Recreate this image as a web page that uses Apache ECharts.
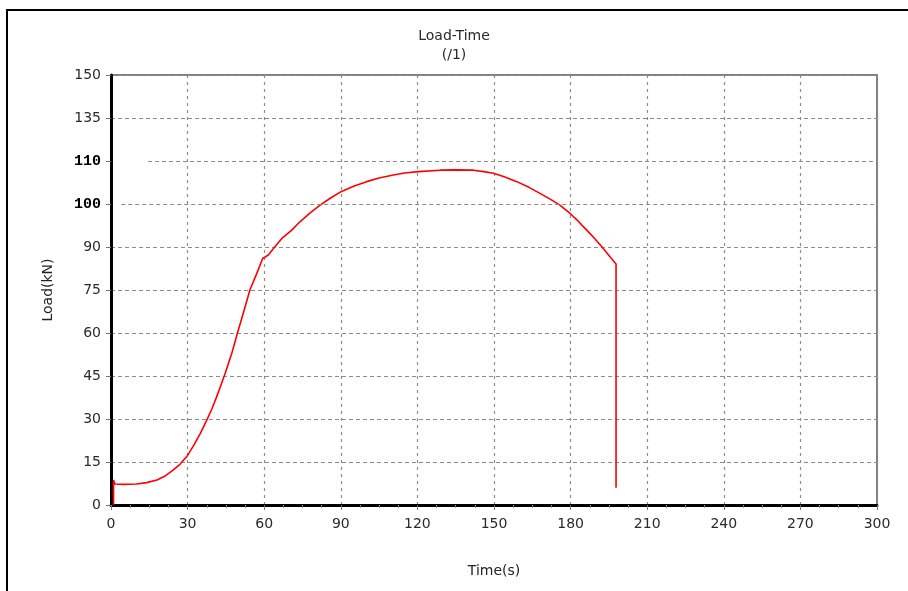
<!DOCTYPE html>
<html>
<head>
<meta charset="utf-8">
<title>Load-Time</title>
<script src="https://cdn.jsdelivr.net/npm/echarts@6/dist/echarts.min.js"></script>
<style>
  html, body { margin: 0; padding: 0; background: #fff; }
  #chart { width: 908px; height: 591px; }
</style>
</head>
<body>
<div id="chart"></div>
<script>
// time (s) of each sample
const timeValues = [
  1, 1, 1.5, 5, 10, 14, 18, 21, 24.3, 27, 30, 32.5, 35, 37.5, 39.5, 41.4, 43, 44.7,
  47.3, 49.5, 51.8, 54.4, 57.1, 59.4, 61.6, 64.2, 66.9, 70.8, 74, 78, 81.9, 86, 90.1,
  95, 100.1, 105, 110.6, 115, 120.4, 128.9, 135, 141.9, 146, 149.8, 154, 158.9, 163.5,
  168, 172, 175.8, 179.8, 183, 186.3, 189.6, 192.8, 195.5, 197.8, 197.8
]
// load (kN) of each sample
const loadValues = [
  0, 8.7, 7.3, 7.2, 7.3, 7.8, 8.7, 10, 12.2, 14.2, 17.3, 21, 25, 29.6, 33.5, 37.8, 41.7, 45.9,
  52.9, 59.9, 66.9, 75, 80.8, 86, 87.2, 90.1, 93, 95.9, 98.8, 101.9, 104.6, 107.1, 109.3,
  111.2, 112.8, 114.1, 115.1, 115.8, 116.3, 116.8, 116.9, 116.8, 116.3, 115.7, 114.5, 112.8, 110.9,
  108.7, 106.7, 104.6, 101.7, 99, 95.9, 92.8, 89.5, 86.5, 84.1, 6
]
// tick labels as printed on the y axis (one per 15 units)
const yTickLabels = ['0', '15', '30', '45', '60', '75', '90', '100', '110', '135', '150']
const editedTicks = ['100', '110']
// the two grid lines whose dashes start away from the axis: [y, x start]
const partialGridLines = [[105, 4], [120, 14.5]]

const chart = echarts.init(document.getElementById('chart'))

const gridGray = '#8c8c8c'
const splitColors = yTickLabels.map(l => editedTicks.includes(l) ? 'transparent' : gridGray)

chart.setOption({
  animation: false,
  textStyle: { fontFamily: 'DejaVu Sans' },
  title: {
    text: 'Load-Time',
    subtext: '(/1)',
    left: 'center',
    top: 24,
    itemGap: 5,
    textStyle: { fontSize: 14, fontWeight: 'normal', color: '#2a2a2a' },
    subtextStyle: { fontSize: 14, color: '#2a2a2a' }
  },
  graphic: [{
    type: 'rect',
    shape: { x: 7, y: 10, width: 1000, height: 1000 },
    style: { fill: 'none', stroke: '#000', lineWidth: 2 },
    silent: true
  }],
  grid: {
    left: 111,
    right: 31,
    top: 75,
    bottom: 86,
    show: true,
    borderColor: '#808080',
    borderWidth: 2
  },
  xAxis: {
    type: 'value',
    min: 0,
    max: 300,
    interval: 30,
    name: 'Time(s)',
    nameLocation: 'middle',
    nameGap: 59,
    nameTextStyle: { fontSize: 14, color: '#222' },
    axisLine: { lineStyle: { color: '#000', width: 3 } },
    axisTick: { show: true, length: 5, lineStyle: { color: '#777' } },
    minorTick: { show: true, splitNumber: 4, length: 3, lineStyle: { color: '#888' } },
    axisLabel: { fontSize: 14, color: '#2a2a2a', margin: 12 },
    splitLine: { show: true, lineStyle: { color: gridGray, type: [3, 4], width: 1.2 } }
  },
  yAxis: {
    type: 'value',
    min: 0,
    max: 150,
    interval: 15,
    name: 'Load(kN)',
    nameLocation: 'middle',
    nameGap: 56,
    nameTextStyle: { fontSize: 14, color: '#222' },
    axisLine: { show: true, lineStyle: { color: '#000', width: 3 } },
    axisTick: { show: true, length: 5, lineStyle: { color: '#777' } },
    axisLabel: {
      fontSize: 14,
      color: '#2a2a2a',
      margin: 10,
      formatter: v => {
        const label = yTickLabels[Math.round(v / 15)]
        return editedTicks.includes(label) ? '{ed|' + label + '}' : label
      },
      rich: {
        ed: { fontFamily: 'Liberation Mono', fontWeight: 'bold', fontSize: 15, color: '#000' }
      }
    },
    splitLine: { show: true, lineStyle: { color: splitColors, type: [4, 3], width: 1.2 } }
  },
  series: [{
    type: 'line',
    data: timeValues.map((t, i) => [t, loadValues[i]]),
    symbol: 'none',
    lineStyle: { color: '#ff0000', width: 1.6 },
    markLine: {
      silent: true,
      symbol: 'none',
      label: { show: false },
      lineStyle: { color: gridGray, type: [4, 3], width: 1.2 },
      data: partialGridLines.map(([y, x0]) => [{ coord: [x0, y] }, { coord: [300, y] }])
    }
  }]
})
</script>
</body>
</html>
